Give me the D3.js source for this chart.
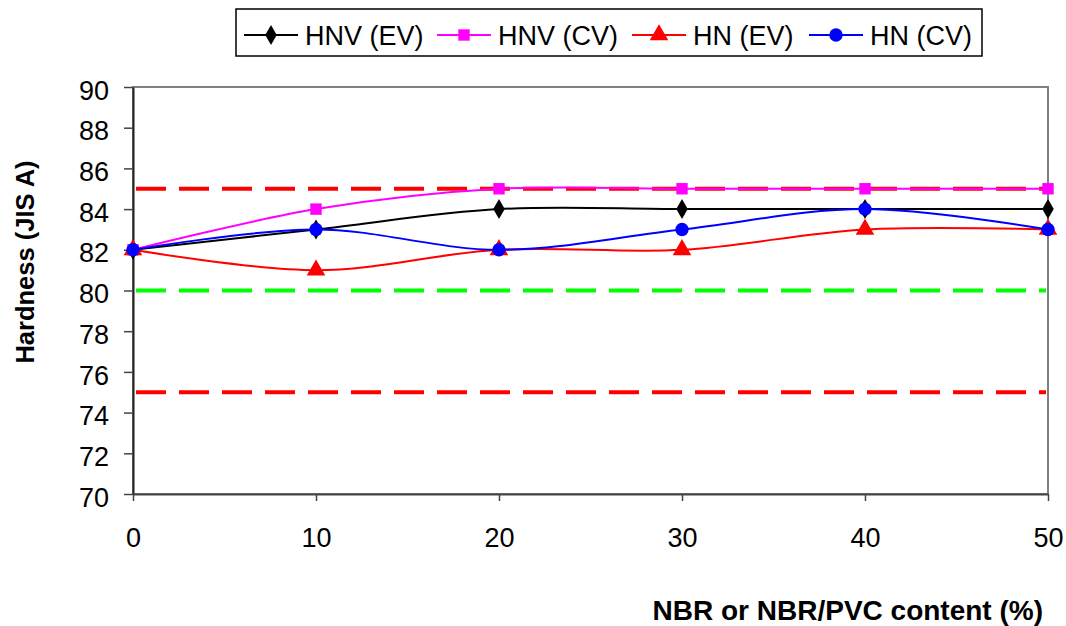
<!DOCTYPE html>
<html>
<head>
<meta charset="utf-8">
<script src="https://cdn.jsdelivr.net/npm/d3@7"></script>
<style>
  body { margin: 0; background: #fff; }
  svg { display: block; font-family: "Liberation Sans", Arial, sans-serif; }
</style>
</head>
<body>
<svg id="chart" width="1066" height="626"></svg>
<script>
// data
var contents = [0, 10, 20, 30, 40, 50];
var hnvEV = [82, 83, 84, 84, 84, 84];
var hnvCV = [82, 84, 85, 85, 85, 85];
var hnEV  = [82, 81, 82, 82, 83, 83];
var hnCV  = [82, 83, 82, 83, 84, 83];
var seriesNames = ["HNV (EV)", "HNV (CV)", "HN (EV)", "HN (CV)"];
var xTicks = [0, 10, 20, 30, 40, 50];
var yTicks = [70, 72, 74, 76, 78, 80, 82, 84, 86, 88, 90];
var limitLines = [85, 80, 75];

var svg = d3.select("#chart");
var plotL = 133, plotR = 1048, plotT = 87, plotB = 494;
var FONT = "Liberation Sans, Arial, sans-serif";

var x = d3.scaleLinear().domain([0, 50]).range([plotL, plotR]);
var y = d3.scaleLinear().domain([70, 90]).range([plotB, plotT]);

var series = [
    { name: seriesNames[0], values: hnvEV, color: "#000000", shape: d3.symbolDiamond, size: 115 },
    { name: seriesNames[1], values: hnvCV, color: "#ff00ff", shape: d3.symbolSquare, size: 130 },
    { name: seriesNames[2], values: hnEV,  color: "#ff0000", shape: d3.symbolTriangle, size: 150 },
    { name: seriesNames[3], values: hnCV,  color: "#0000ff", shape: d3.symbolCircle, size: 140 }
];

// plot frame (grey top and right)
svg.append("rect")
    .attr("x", plotL).attr("y", plotT)
    .attr("width", plotR - plotL).attr("height", plotB - plotT)
    .attr("fill", "none").attr("stroke", "#808080").attr("stroke-width", 2);

// y axis
var yAxis = svg.append("g")
    .attr("transform", "translate(" + plotL + ",0)")
    .call(d3.axisLeft(y).tickValues(yTicks).tickSize(9).tickPadding(15).tickSizeOuter(0));
yAxis.select(".domain").attr("stroke", "#222").attr("stroke-width", 2);
yAxis.selectAll(".tick line").attr("stroke", "#444").attr("stroke-width", 1.5);
yAxis.selectAll("text").attr("font-size", 27).attr("fill", "#000")
    .attr("font-family", FONT).attr("dy", "0.45em");

// x axis
var xAxis = svg.append("g")
    .attr("transform", "translate(0," + plotB + ")")
    .call(d3.axisBottom(x).tickValues(xTicks).tickSize(7).tickPadding(27).tickSizeOuter(0));
xAxis.select(".domain").attr("stroke", "#444").attr("stroke-width", 2);
xAxis.selectAll(".tick line").attr("stroke", "#444").attr("stroke-width", 1.5);
xAxis.selectAll("text").attr("font-size", 27).attr("fill", "#000")
    .attr("font-family", FONT);

// dashed limit lines
svg.selectAll("line.limit")
    .data(limitLines)
    .enter().append("line")
    .attr("class", "limit")
    .attr("x1", plotL + 3).attr("x2", plotR - 2)
    .attr("y1", function(d) { return y(d); })
    .attr("y2", function(d) { return y(d); })
    .attr("stroke", function(d) { return d == 80 ? "#00ff00" : "#ff0000"; })
    .attr("stroke-width", 4)
    .attr("stroke-dasharray", "30,13");

// smoothed series lines
var line = d3.line()
    .x(function(d, i) { return x(contents[i]); })
    .y(function(d) { return y(d); })
    .curve(d3.curveCatmullRom.alpha(0.5));

svg.selectAll("path.series")
    .data(series)
    .enter().append("path")
    .attr("class", "series")
    .attr("d", function(s) { return line(s.values); })
    .attr("fill", "none")
    .attr("stroke", function(s) { return s.color; })
    .attr("stroke-width", 2);

// markers
series.forEach(function(s) {
    svg.selectAll(null)
        .data(s.values)
        .enter().append("path")
        .attr("d", d3.symbol().type(s.shape).size(s.size))
        .attr("transform", function(d, i) {
            return "translate(" + x(contents[i]) + "," + y(d) + ")";
        })
        .attr("fill", s.color);
});

// axis titles
svg.append("text")
    .attr("transform", "translate(34,262) rotate(-90)")
    .attr("text-anchor", "middle")
    .attr("font-size", 25.5).attr("font-weight", "bold")
    .text("Hardness (JIS A)");

svg.append("text")
    .attr("x", 1043).attr("y", 620)
    .attr("text-anchor", "end")
    .attr("font-size", 28).attr("font-weight", "bold")
    .text("NBR or NBR/PVC content (%)");

// legend
var legend = svg.append("g");
legend.append("rect")
    .attr("x", 236).attr("y", 9).attr("width", 746).attr("height", 47)
    .attr("fill", "#fff").attr("stroke", "#000").attr("stroke-width", 1.5);

var legendX = [244, 437, 632, 809];
series.forEach(function(s, i) {
    var g = legend.append("g").attr("transform", "translate(" + legendX[i] + ",35)");
    g.append("line").attr("x1", 0).attr("x2", 54).attr("y1", 0).attr("y2", 0)
        .attr("stroke", s.color).attr("stroke-width", 2);
    g.append("path")
        .attr("d", d3.symbol().type(s.shape).size(s.size))
        .attr("transform", "translate(27,0)")
        .attr("fill", s.color);
    g.append("text")
        .attr("x", 61).attr("y", 10)
        .attr("font-size", 27)
        .text(s.name);
});
</script>
</body>
</html>
